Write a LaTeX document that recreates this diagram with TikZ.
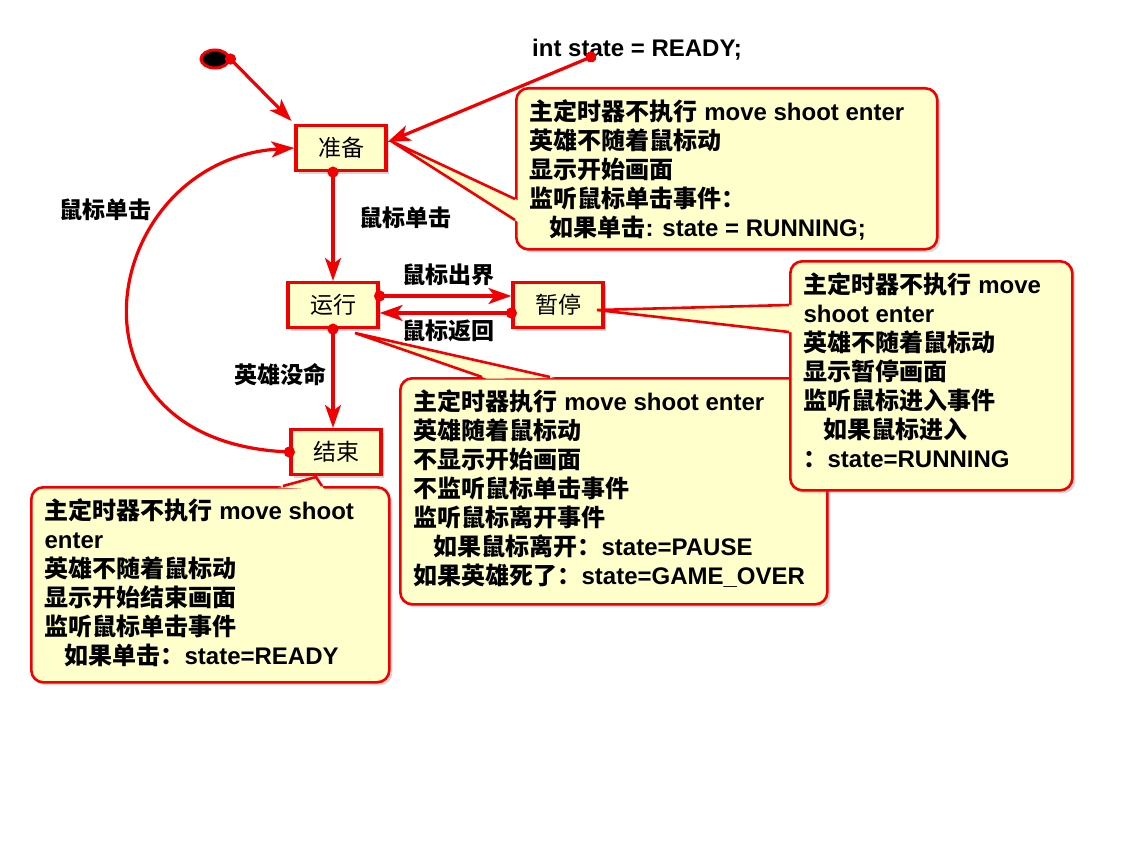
\documentclass[tikz,border=0pt]{standalone}
\usepackage{fontspec}
\setmainfont{Liberation Sans}
\newfontfamily\cjk{Noto Sans CJK SC}
\usetikzlibrary{arrows.meta,shapes.geometric,shadows,calc}
\definecolor{boxred}{RGB}{240,0,0}
\definecolor{boxyellow}{RGB}{255,255,204}
\newcommand{\en}[1]{{\normalfont\bfseries #1}}
\newcommand{\notetail}[3]{%
  \fill[boxyellow] (#1) -- ($(#2)!-5pt!(#1)$) -- ($(#3)!-5pt!(#1)$) -- cycle;
  \draw[tailline] (#2) -- (#1) -- (#3);}

\begin{document}
\begin{tikzpicture}[x=1pt,y=-1pt,line width=3.2pt,
                    tipped/.style={draw=boxred,line width=3.2pt,{Circle[length=11pt]}-{Stealth[length=23pt,width=16pt,inset=6pt]},shorten <=-5.5pt}]
\tikzstyle{statebox}=[draw=boxred,fill=boxyellow,line width=3.2pt,minimum width=90pt,minimum height=45pt,
                      font=\cjk\fontsize{23}{23}\selectfont,drop shadow={shadow xshift=3pt,shadow yshift=-3pt,opacity=0.35}]
\tikzstyle{note}=[draw=boxred,fill=boxyellow,line width=2.6pt,rounded corners=12pt,anchor=north west,inner sep=0pt,
                  drop shadow={shadow xshift=3pt,shadow yshift=-3pt,opacity=0.3}]
\tikzstyle{notetext}=[font=\cjk\bfseries\fontsize{24}{29}\selectfont,align=left,anchor=north west,inner sep=0pt]
\tikzstyle{tailline}=[draw=boxred,line width=2.6pt,line join=miter]
\tikzstyle{lbl}=[font=\cjk\bfseries\fontsize{23}{23}\selectfont]
\useasboundingbox (0,0) rectangle (1126,840);

% states
\node[ellipse,draw=boxred,fill=black,line width=3pt,minimum width=28pt,minimum height=18pt,inner sep=0pt] (init) at (215,59) {};
\node[statebox] (ready) at (341,148) {准备};
\node[statebox] (run) at (333,305) {运行};
\node[statebox] (pause) at (558,305) {暂停};
\node[statebox] (over) at (336,452) {结束};

\node[font=\bfseries\fontsize{24}{24}\selectfont] (stateinit) at (637,50) {int state = READY;};
\coordinate (statedot) at (591,57);

% notes
\node[note,minimum width=421pt,minimum height=161pt] (readynote) at (515,87) {};
\notetail{391,141}{515,199}{515,220}
\node[notetext] (readytext) at ([shift={(13,11)}]readynote.north west) {%
主定时器不执行\en{ move shoot enter}\\
英雄不随着鼠标动\\
显示开始画面\\
监听鼠标单击事件：\\
\hspace*{20pt}如果单击\en{: state = RUNNING;}};

\node[note,minimum width=427pt,minimum height=226pt] (runnote) at (399,377) {};
\notetail{355,333}{482,377}{550,377}
\node[notetext] (runtext) at ([shift={(13,11)}]runnote.north west) {%
主定时器执行\en{ move shoot enter}\\
英雄随着鼠标动\\
不显示开始画面\\
不监听鼠标单击事件\\
监听鼠标离开事件\\
\hspace*{20pt}如果鼠标离开：\en{state=PAUSE}\\
如果英雄死了：\en{state=GAME\_OVER}};

\node[note,minimum width=282pt,minimum height=229pt] (pausenote) at (789,260) {};
\notetail{597,310}{789,305}{789,332}
\node[notetext] (pausetext) at ([shift={(13,11)}]pausenote.north west) {%
主定时器不执行\en{ move}\\
\en{shoot enter}\\
英雄不随着鼠标动\\
显示暂停画面\\
监听鼠标进入事件\\
\hspace*{20pt}如果鼠标进入\\
：\en{state=RUNNING}};

\node[note,minimum width=358pt,minimum height=195pt] (overnote) at (30,486) {};
\notetail{316,477}{283,486}{322,486}
\node[notetext] (overtext) at ([shift={(13,11)}]overnote.north west) {%
主定时器不执行\en{ move shoot}\\
\en{enter}\\
英雄不随着鼠标动\\
显示开始结束画面\\
监听鼠标单击事件\\
\hspace*{20pt}如果单击：\en{state=READY}};

% transitions
\draw[tipped,shorten >=4pt] (init.east) -- (ready.north west);
\draw[tipped] (statedot) -- ([yshift=6pt]ready.east);
\draw[tipped] (ready.south -| run) -- (run.north);
\draw[tipped] ([yshift=9pt]run.east) -- ([yshift=9pt]pause.west);
\draw[tipped] ([yshift=-8pt]pause.west) -- ([yshift=-8pt]run.east);
\draw[tipped] (run.south) -- (over.north -| run);
\draw[tipped] (over.west) .. controls (50,440) and (100,160) .. (ready.west);

\node[lbl] (clickleft) at (105,210) {鼠标单击};
\node[lbl] (clickmid) at (405,218) {鼠标单击};
\node[lbl] (outlbl) at (448,275) {鼠标出界};
\node[lbl] (backlbl) at (448,331) {鼠标返回};
\node[lbl] (deadlbl) at (280,375) {英雄没命};
\end{tikzpicture}
\end{document}
